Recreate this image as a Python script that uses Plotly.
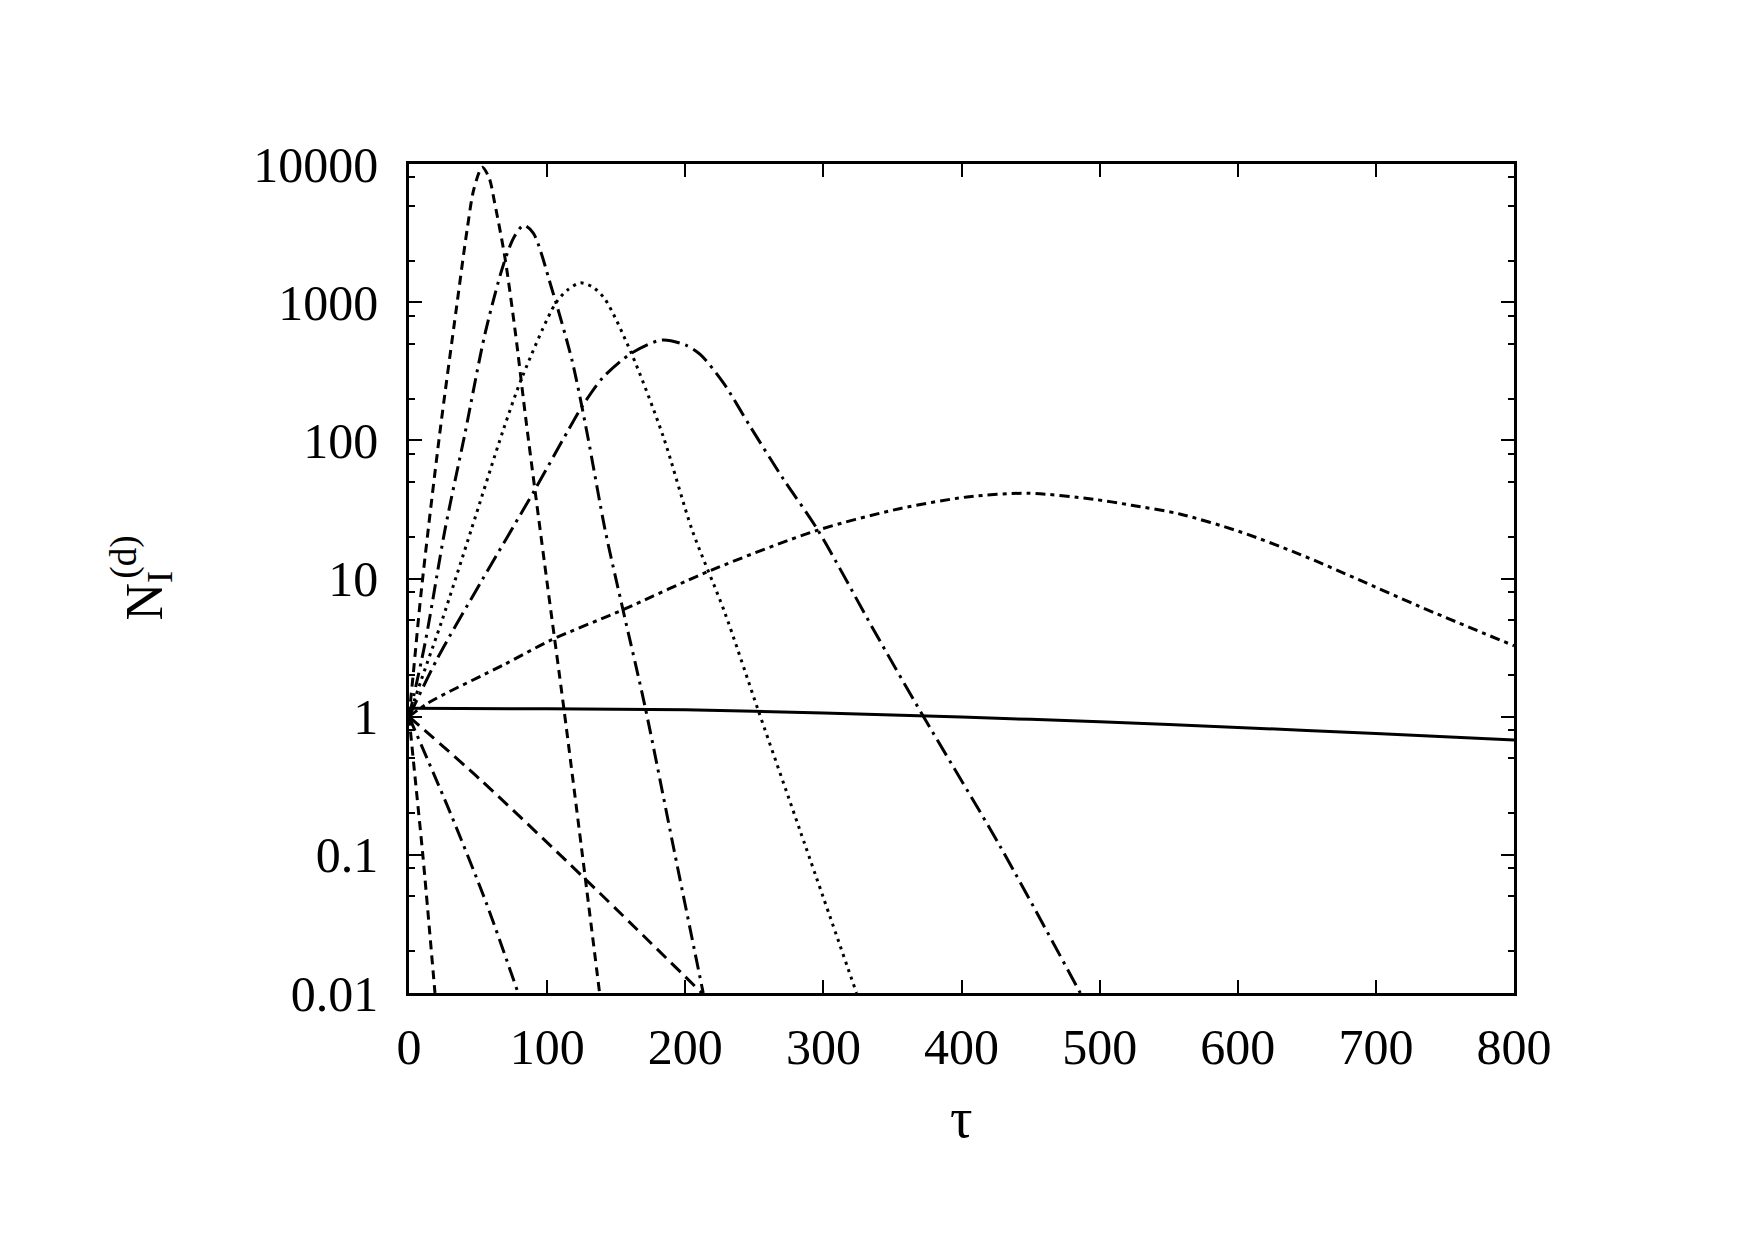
import plotly.graph_objects as go

# ---- data (tau, N) ----
tau_a = [0, 3, 9, 22, 34.5, 42, 47, 53, 58, 62, 69.5, 77, 85, 100, 112, 125, 138]
n_a = [1, 2.0, 8.3, 107, 933, 3311, 6607, 9462, 7943, 5248, 2089, 603, 132, 9.3, 1.17, 0.11, 0.01]

tau_b = [0, 11.6, 26, 40.5, 55, 68, 76, 83, 90, 103, 118, 129, 142, 155, 171, 192, 213]
n_b = [1, 3.39, 22.4, 112, 589, 1820, 2951, 3597, 3162, 1288, 380, 112, 22.4, 5.89, 1.17, 0.107, 0.01]

tau_c = [0, 9, 24, 45, 68, 82, 106, 115, 124, 133, 142, 161, 184, 205, 228, 253, 283, 324]
n_c = [1, 1.86, 5.01, 22.4, 117, 288, 977, 1230, 1380, 1288, 1047, 427, 107, 22.4, 5.89, 1.10, 0.151, 0.01]

tau_d = [0, 21, 53, 91, 115, 125, 140, 161, 183, 200, 211, 228, 247, 271, 296, 338, 372, 428, 486]
n_d = [1, 2.69, 9.77, 43.7, 117, 174, 282, 427, 532, 490, 417, 257, 126, 52.5, 22.4, 3.98, 1.02, 0.115, 0.01]

tau_e = [0, 14, 69.5, 103, 154, 219, 296, 355, 404, 448, 496, 523, 558, 601, 644, 688, 731, 800]
n_e = [1, 1.26, 2.40, 3.59, 5.89, 11.5, 22.4, 32.0, 38.9, 41.4, 37.4, 33.9, 29.3, 21.9, 15.1, 9.77, 6.31, 3.26]

tau_f = [0, 100, 200, 300, 400, 500, 600, 700, 800]
n_f = [1.15, 1.14, 1.12, 1.064, 0.993, 0.918, 0.836, 0.755, 0.678]

tau_g = [0, 5, 10, 18.8]
n_g = [1, 0.316, 0.1, 0.01]

tau_h = [0, 30, 56, 79]
n_h = [1, 0.2, 0.0447, 0.01]

tau_i = [0, 51, 126, 212]
n_i = [1, 0.355, 0.0692, 0.01]

x_ticks = [0, 100, 200, 300, 400, 500, 600, 700, 800]
y_ticks = [0.01, 0.1, 1, 10, 100, 1000, 10000]
y_ticktext = ["0.01", "0.1", "1", "10", "100", "1000", "10000"]
y_minor = [m * d for d in [0.01, 0.1, 1, 10, 100, 1000] for m in (2, 5, 8)]

FONT = "Liberation Serif, Times New Roman, serif"

series = [
    (tau_a, n_a, "9px,6px"),
    (tau_b, n_b, "15px,6px,3px,6px"),
    (tau_c, n_c, "3px,5px"),
    (tau_d, n_d, "18px,6px,3px,6px"),
    (tau_e, n_e, "10px,5px,4px,5px"),
    (tau_f, n_f, "solid"),
    (tau_g, n_g, "9px,6px"),
    (tau_h, n_h, "15px,6px,3px,6px"),
    (tau_i, n_i, "13px,7px"),
]

fig = go.Figure()
for tx, ny, dash in series:
    fig.add_trace(go.Scatter(
        x=tx, y=ny, mode="lines",
        line=dict(color="black", width=3, dash=dash, shape="spline", smoothing=0.8),
        showlegend=False, hoverinfo="skip",
    ))

axis_common = dict(
    showline=True, linecolor="black", linewidth=2.7, mirror="allticks",
    ticks="inside", ticklen=13, tickwidth=2, tickcolor="black",
    showgrid=False, zeroline=False,
    tickfont=dict(family=FONT, size=50, color="black"),
)

fig.update_xaxes(range=[0, 800], tickmode="array", tickvals=x_ticks,
                 ticklabelstandoff=8, **axis_common)
fig.update_yaxes(type="log", range=[-2, 4], tickmode="array", tickvals=y_ticks,
                 ticktext=y_ticktext, ticklabelstandoff=18,
                 minor=dict(tickmode="array", tickvals=y_minor, ticks="inside",
                            ticklen=6, tickwidth=2, tickcolor="black", showgrid=False),
                 **axis_common)

fig.add_annotation(text="τ", xref="paper", yref="paper", x=0.5, y=0,
                   xanchor="center", yanchor="middle", yshift=-125, showarrow=False,
                   font=dict(family=FONT, size=56, color="black"))
fig.add_annotation(text="N<sub>I</sub>", xref="paper", yref="paper", x=0, y=0.5,
                   xanchor="center", yanchor="middle", xshift=-261, yshift=-17,
                   textangle=-90, showarrow=False,
                   font=dict(family=FONT, size=52, color="black"))
fig.add_annotation(text="(d)", xref="paper", yref="paper", x=0, y=0.5,
                   xanchor="center", yanchor="middle", xshift=-286, yshift=21,
                   textangle=-90, showarrow=False,
                   font=dict(family=FONT, size=37, color="black"))

fig.update_layout(
    width=1755, height=1240,
    margin=dict(l=409, r=241, t=164, b=247, autoexpand=False),
    paper_bgcolor="white", plot_bgcolor="white",
    font=dict(family=FONT, color="black"),
)

fig.write_html("out.html")
